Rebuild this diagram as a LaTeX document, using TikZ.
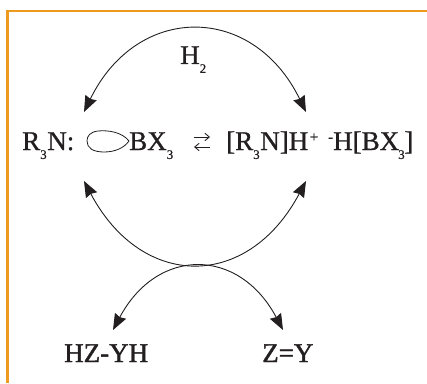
\documentclass[tikz,border=0pt]{standalone}
\usepackage{fontspec}
\setmainfont{Liberation Serif}[RawFeature={embolden=0.9}]
\newfontfamily\heavyfont{Liberation Serif}[RawFeature={embolden=1.4}]
\usetikzlibrary{arrows.meta}
\definecolor{framecol}{HTML}{EE9A1E}
\definecolor{inkcol}{HTML}{231F20}
\newcommand{\lowidx}[1]{\raisebox{-.33em}{\fontsize{13}{13}\selectfont #1}\kern.6pt}
\newcommand{\highidx}[1]{\raisebox{.3em}{\fontsize{15}{15}\selectfont #1}}
\begin{document}
\begin{tikzpicture}[
		x=1pt,
		y=1pt,
		every node/.style={
				inner sep=0pt,
				anchor=base west,
				text=inkcol,
				font=\fontsize{27}{27}\selectfont
			},
		product/.style={
				font=\fontsize{27}{27}\heavyfont
			},
		curve/.style={
				<->,
				>={Stealth[length=16pt, width=12.5pt, inset=1.5pt]},
				draw=inkcol,
				line width=0.9pt
			},
		eqarrow/.style={
				->,
				>={Straight Barb[length=4.5pt, width=7.5pt]},
				draw=inkcol,
				line width=0.9pt
			}
	]
	\useasboundingbox (0, 0) rectangle (427, 383);

	% frame
	\coordinate (framea) at (7.5, 0);
	\coordinate (frameb) at (7.5, 372);
	\coordinate (framec) at (427, 372);
	\draw[framecol, line width=2.6pt] (framea) -- (frameb) -- (framec);

	\node (h2) at (180, 319) {H\lowidx{2}};
	\node (amine) at (22, 233) {R\lowidx{3}N:};
	\node (borane) at (129, 233) {BX\lowidx{3}};
	\node (salt) at (226, 233) {[R\lowidx{3}N]H\kern1.5pt\highidx{+}};
	\node (hydride) at (328, 233) {\highidx{-}H[BX\kern-1pt\lowidx{3}\kern-1pt]};
	\node[product] (hzyh) at (64, 21) {HZ-YH};
	\node[product] (zy) at (262, 21) {Z=Y};

	% empty orbital
	\draw[inkcol, line width=0.8pt] (129, 242) .. controls (122, 251) and (108, 253) .. (98, 252)
	.. controls (90, 251) and (87, 247) .. (87, 242)
	.. controls (87, 235) and (93, 231) .. (104, 231)
	.. controls (115, 231) and (124, 235) .. (129, 242);

	% equilibrium
	\coordinate (eqa) at (194, 246);
	\coordinate (eqb) at (210, 246);
	\coordinate (eqc) at (210, 236);
	\coordinate (eqd) at (194, 236);
	\draw[eqarrow] (eqa) -- (eqb);
	\draw[eqarrow] (eqc) -- (eqd);

	% curved arrows
	\coordinate (topl) at (84, 271);
	\coordinate (topr) at (306, 271);
	\coordinate (midl) at (84, 202);
	\coordinate (midr) at (306, 202);
	\coordinate (lowl) at (113, 53);
	\coordinate (lowr) at (283, 53);
	\draw[curve] (topl) to[out=64, in=116, looseness=1.40] (topr);
	\draw[curve] (midl) to[out=-62, in=-118, looseness=1.43] (midr);
	\draw[curve] (lowl) to[out=62, in=118, looseness=1.42] (lowr);
\end{tikzpicture}
\end{document}
